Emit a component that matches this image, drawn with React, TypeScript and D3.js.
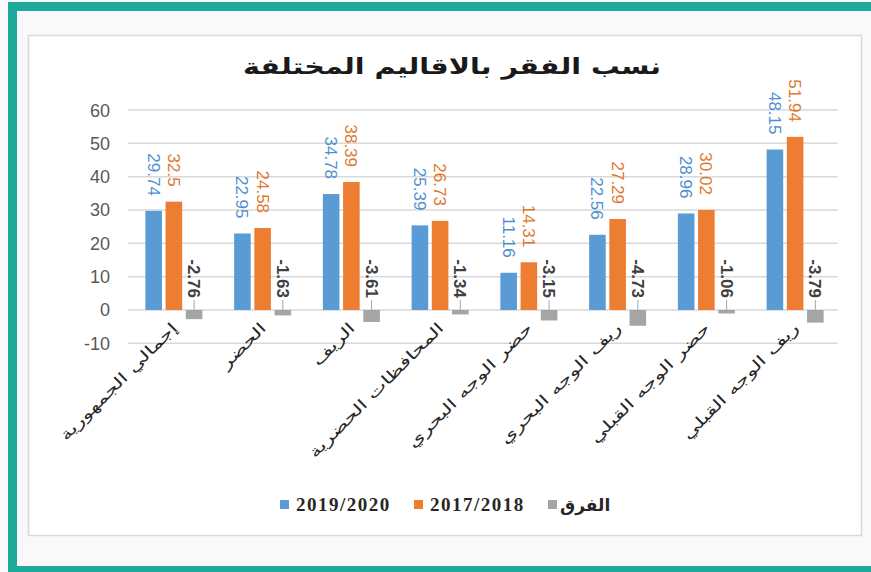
import React from "react";
import * as d3 from "d3";

const categories = [
  "إجمالي الجمهورية",
  "الحضر",
  "الريف",
  "المحافظات الحضرية",
  "حضر الوجه البحري",
  "ريف الوجه البحري",
  "حضر الوجه القبلي",
  "ريف الوجه القبلي",
];
const series2020 = [29.74, 22.95, 34.78, 25.39, 11.16, 22.56, 28.96, 48.15];
const series2018 = [32.5, 24.58, 38.39, 26.73, 14.31, 27.29, 30.02, 51.94];
const seriesDiff = [-2.76, -1.63, -3.61, -1.34, -3.15, -4.73, -1.06, -3.79];
const yTicks = [60, 50, 40, 30, 20, 10, 0, -10];
const seriesNames = ["2019/2020", "2017/2018", "الفرق"];
const title = "نسب الفقر بالاقاليم المختلفة";

const W = 871;
const H = 572;
const colors = ["#5b9bd5", "#ed7d31", "#a5a5a5"];
const labelColors = ["#4f8fcf", "#e0772e", "#404040"];

export default function App() {
  const x = d3.scaleBand<string>().domain(categories).range([128, 838]).paddingInner(0).paddingOuter(0);
  const y = d3.scaleLinear().domain([-10, 60]).range([343.3, 110]);
  const inner = d3
    .scaleBand<number>()
    .domain([0, 1, 2])
    .range([0, 57])
    .paddingInner(0.18);
  const bw = inner.bandwidth();
  const groupOffset = (x.bandwidth() - 57) / 2 + 1.5;
  const all = [series2020, series2018, seriesDiff];
  const arabicFont = "'DejaVu Sans', sans-serif";
  const numFont = "'Liberation Sans', Arial, sans-serif";

  return (
    <div style={{ position: "absolute", left: 0, top: 0 }}>
      <svg width={W} height={H} style={{ display: "block" }}>
        <rect x={0} y={0} width={W} height={H} fill="#f9f9f9" />
        {/* teal frame */}
        <rect x={8} y={2} width={W - 8} height={9} fill="#1fa99a" />
        <rect x={8} y={2} width={9} height={570} fill="#1fa99a" />
        <rect x={8} y={566} width={W - 8} height={6} fill="#1fa99a" />
        {/* chart area */}
        <rect x={28.5} y={35.5} width={833} height={500} fill="#ffffff" stroke="#d9d9d9" strokeWidth={1.5} />
        <text
          transform="translate(452,74) scale(1.3,1)"
          textAnchor="middle"
          fontFamily={arabicFont}
          fontSize={22}
          fontWeight="bold"
          fill="#1a1a1a"
        >
          {title}
        </text>
        {/* gridlines */}
        {yTicks.map((t) => (
          <g key={t}>
            <line x1={128} x2={838} y1={y(t)} y2={y(t)} stroke="#d9d9d9" strokeWidth={1.5} />
            <text
              x={110}
              y={y(t) + 6.5}
              textAnchor="end"
              fontFamily={numFont}
              fontSize={18}
              fill="#595959"
            >
              {t}
            </text>
          </g>
        ))}
        {/* bars */}
        {all.map((vals, si) =>
          vals.map((v, i) => {
            const bx = (x(categories[i]) as number) + groupOffset + (inner(si) as number);
            const top = y(Math.max(0, v));
            const bot = y(Math.min(0, v));
            return (
              <rect
                key={`${si}-${i}`}
                x={bx}
                y={top}
                width={bw}
                height={bot - top}
                fill={colors[si]}
              />
            );
          })
        )}
        {/* data labels */}
        {all.map((vals, si) =>
          vals.map((v, i) => {
            const cx = (x(categories[i]) as number) + groupOffset + (inner(si) as number) + bw / 2;
            if (si < 2) {
              const endY = y(v) - 15;
              return (
                <text
                  key={`l${si}-${i}`}
                  transform={`translate(${cx - 6},${endY}) rotate(90)`}
                  textAnchor="end"
                  fontFamily={numFont}
                  fontSize={17}
                  fill={labelColors[si]}
                >
                  {String(v)}
                </text>
              );
            }
            const endY = 298;
            return (
              <g key={`l${si}-${i}`}>
                <text
                  transform={`translate(${cx - 6},${endY}) rotate(90)`}
                  textAnchor="end"
                  fontFamily={numFont}
                  fontSize={17}
                  fontWeight="bold"
                  fill={labelColors[si]}
                >
                  {String(v)}
                </text>
                <line x1={cx} x2={cx} y1={endY + 2} y2={y(0)} stroke="#a6a6a6" strokeWidth={1} />
              </g>
            );
          })
        )}
        {/* category labels */}
        {categories.map((c) => {
          const cx = (x(c) as number) + x.bandwidth() / 2 + 6;
          return (
            <text
              key={c}
              transform={`translate(${cx},${329}) rotate(-45) scale(1.45,1)`}
              textAnchor="end"
              fontFamily={arabicFont}
              fontSize={15}
              fill="#262626"
            >
              {c}
            </text>
          );
        })}
        {/* legend */}
        {[
          { sq: 280, tx: 296, si: 0 },
          { sq: 414, tx: 430, si: 1 },
          { sq: 548, tx: 560, si: 2 },
        ].map((l) => (
          <g key={l.si}>
            <rect x={l.sq} y={500} width={9} height={9} fill={colors[l.si]} />
            <text
              x={l.tx}
              y={511}
              fontFamily={l.si === 2 ? arabicFont : "'Liberation Serif', 'Times New Roman', serif"}
              fontWeight="bold"
              fontSize={l.si === 2 ? 17 : 19}
              fill="#262626"
              style={{ letterSpacing: l.si === 2 ? "0px" : "1.5px" }}
            >
              {seriesNames[l.si]}
            </text>
          </g>
        ))}
      </svg>
    </div>
  );
}
